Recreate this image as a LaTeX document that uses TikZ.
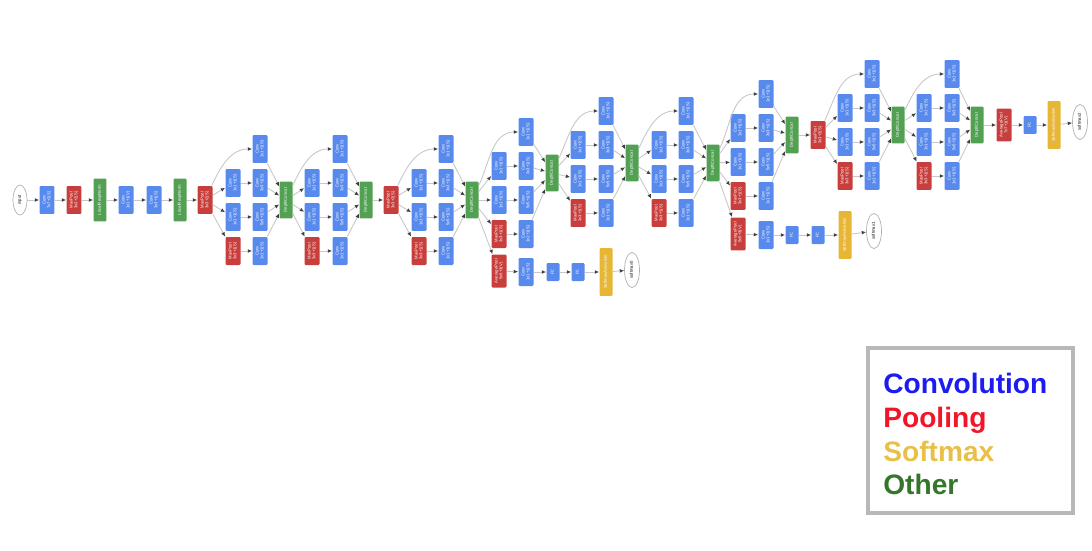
\documentclass[tikz,border=0pt]{standalone}
\usepackage{fontspec}
\setmainfont{Liberation Sans}
\usepackage{graphicx}
\definecolor{GNBlue}{RGB}{88, 138, 238}
\definecolor{GNRed}{RGB}{200, 62, 60}
\definecolor{GNGreen}{RGB}{82, 160, 82}
\definecolor{GNYellow}{RGB}{230, 182, 52}
\definecolor{LegBlue}{RGB}{28, 28, 240}
\definecolor{LegRed}{RGB}{240, 22, 40}
\definecolor{LegYellow}{RGB}{232, 192, 72}
\definecolor{LegGreen}{RGB}{52, 118, 42}
\usetikzlibrary{arrows.meta, shapes.geometric}

% rotated node text
\newcommand{\vtext}[1]{\rotatebox{90}{\begin{tabular}{@{}c@{}}#1\end{tabular}}}
% one inception module: prefix, input node, col1 x, col2 x, concat x, top y, concat y
\newcommand{\inception}[7]{%
  \node[conv] (#1-top) at (#4,-#6) {\vtext{Conv\\1x1+1(S)}};
  \node[conv] (#1-a) at (#3,{-(#6+34)}) {\vtext{Conv\\1x1+1(S)}};
  \node[conv] (#1-b) at (#4,{-(#6+34)}) {\vtext{Conv\\3x3+1(S)}};
  \node[conv] (#1-c) at (#3,{-(#6+68)}) {\vtext{Conv\\1x1+1(S)}};
  \node[conv] (#1-d) at (#4,{-(#6+68)}) {\vtext{Conv\\5x5+1(S)}};
  \node[pool] (#1-e) at (#3,{-(#6+102)}) {\vtext{MaxPool\\3x3+1(S)}};
  \node[conv] (#1-f) at (#4,{-(#6+102)}) {\vtext{Conv\\1x1+1(S)}};
  \node[concat] (#1-cat) at (#5,-#7) {\vtext{DepthConcat}};
  \draw[arrow] (#2) to[out=65, in=180] (#1-top);
  \draw[arrow] (#2) -- (#1-a);
  \draw[arrow] (#2) -- (#1-c);
  \draw[arrow] (#2) -- (#1-e);
  \draw[arrow] (#1-a) -- (#1-b);
  \draw[arrow] (#1-c) -- (#1-d);
  \draw[arrow] (#1-e) -- (#1-f);
  \draw[arrow] (#1-top) -- (#1-cat);
  \draw[arrow] (#1-b) -- (#1-cat);
  \draw[arrow] (#1-d) -- (#1-cat);
  \draw[arrow] (#1-f) -- (#1-cat);
}

\begin{document}
\begin{tikzpicture}[
  x=0.02cm, y=0.02cm,
  blk/.style={
    rectangle, rounded corners=0.6pt, inner sep=0pt,
    text=white, font=\fontsize{2.4}{2.8}\selectfont
  },
  conv/.style={blk, fill=GNBlue, minimum width=0.3cm, minimum height=0.56cm},
  pool/.style={blk, fill=GNRed, minimum width=0.3cm, minimum height=0.56cm},
  avgpool/.style={pool, minimum height=0.66cm},
  lrn/.style={blk, fill=GNGreen, minimum width=0.26cm, minimum height=0.86cm},
  concat/.style={blk, fill=GNGreen, minimum width=0.26cm, minimum height=0.74cm},
  fc/.style={blk, fill=GNBlue, minimum width=0.26cm, minimum height=0.36cm},
  smax/.style={blk, fill=GNYellow, minimum width=0.26cm, minimum height=0.96cm},
  io/.style={
    ellipse, draw=black!30, line width=0.4pt, fill=white, inner sep=0pt,
    minimum width=0.28cm, minimum height=0.6cm, font=\fontsize{2.4}{2.8}\selectfont
  },
  outnode/.style={io, minimum width=0.3cm, minimum height=0.7cm},
  arrow/.style={-{Latex[length=2.5pt, width=2.2pt, color=black!75]}, draw=black!22, line width=0.5pt},
  legend/.style={anchor=base west, inner sep=0pt, font=\fontsize{16}{19}\selectfont\bfseries},
]
\useasboundingbox (0,0) rectangle (1092,-551);

% stem
\node[io] (input) at (20,-200) {\vtext{input}};
\node[conv] (conv1) at (47,-200) {\vtext{Conv\\7x7+2(S)}};
\node[pool] (pool1) at (74,-200) {\vtext{MaxPool\\3x3+2(S)}};
\node[lrn] (norm1) at (100,-200) {\vtext{LocalRespNorm}};
\node[conv] (conv2a) at (126,-200) {\vtext{Conv\\1x1+1(V)}};
\node[conv] (conv2b) at (154,-200) {\vtext{Conv\\3x3+1(S)}};
\node[lrn] (norm2) at (180,-200) {\vtext{LocalRespNorm}};
\node[pool] (pool2) at (205,-200) {\vtext{MaxPool\\3x3+2(S)}};

\draw[arrow] (input) -- (conv1);
\draw[arrow] (conv1) -- (pool1);
\draw[arrow] (pool1) -- (norm1);
\draw[arrow] (norm1) -- (conv2a);
\draw[arrow] (conv2a) -- (conv2b);
\draw[arrow] (conv2b) -- (norm2);
\draw[arrow] (norm2) -- (pool2);

% inception 3
\inception{i3a}{pool2}{233}{260}{286}{149}{200}
\inception{i3b}{i3a-cat}{312}{340}{366}{149}{200}
\node[pool] (pool3) at (391,-200) {\vtext{MaxPool\\3x3+2(S)}};
\draw[arrow] (i3b-cat) -- (pool3);

% inception 4
\inception{i4a}{pool3}{419}{446}{472}{149}{200}
\inception{i4b}{i4a-cat}{499}{526}{552}{132}{173}
\inception{i4c}{i4b-cat}{578}{606}{632}{111}{163}
\inception{i4d}{i4c-cat}{659}{686}{713}{111}{163}
\inception{i4e}{i4d-cat}{738}{766}{792}{94}{135}

% first side classifier
\node[avgpool] (aux1-pool) at (499,-271) {\vtext{AveragePool\\5x5+3(V)}};
\node[conv] (aux1-conv) at (526,-272) {\vtext{Conv\\1x1+1(S)}};
\node[fc] (aux1-fc1) at (553,-272) {\vtext{FC}};
\node[fc] (aux1-fc2) at (578,-272) {\vtext{FC}};
\node[smax] (aux1-sm) at (606,-272) {\vtext{SoftmaxActivation}};
\node[outnode] (softmax0) at (632,-270) {\vtext{softmax0}};
\draw[arrow] (i4a-cat) -- (aux1-pool);
\draw[arrow] (aux1-pool) -- (aux1-conv);
\draw[arrow] (aux1-conv) -- (aux1-fc1);
\draw[arrow] (aux1-fc1) -- (aux1-fc2);
\draw[arrow] (aux1-fc2) -- (aux1-sm);
\draw[arrow] (aux1-sm) -- (softmax0);

% second side classifier
\node[avgpool] (aux2-pool) at (738,-234) {\vtext{AveragePool\\5x5+3(V)}};
\node[conv] (aux2-conv) at (766,-235) {\vtext{Conv\\1x1+1(S)}};
\node[fc] (aux2-fc1) at (792,-235) {\vtext{FC}};
\node[fc] (aux2-fc2) at (818,-235) {\vtext{FC}};
\node[smax] (aux2-sm) at (845,-235) {\vtext{SoftmaxActivation}};
\node[outnode] (softmax1) at (874,-231) {\vtext{softmax1}};
\draw[arrow] (i4d-cat) -- (aux2-pool);
\draw[arrow] (aux2-pool) -- (aux2-conv);
\draw[arrow] (aux2-conv) -- (aux2-fc1);
\draw[arrow] (aux2-fc1) -- (aux2-fc2);
\draw[arrow] (aux2-fc2) -- (aux2-sm);
\draw[arrow] (aux2-sm) -- (softmax1);

\node[pool] (pool4) at (818,-135) {\vtext{MaxPool\\3x3+2(S)}};
\draw[arrow] (i4e-cat) -- (pool4);

% inception 5
\inception{i5a}{pool4}{845}{872}{898}{74}{125}
\inception{i5b}{i5a-cat}{924}{952}{977}{74}{125}

% head
\node[avgpool] (pool5) at (1004,-125) {\vtext{AveragePool\\7x7+1(V)}};
\node[fc] (fc) at (1030,-125) {\vtext{FC}};
\node[smax] (sm) at (1054,-125) {\vtext{SoftmaxActivation}};
\node[outnode] (softmax2) at (1080,-122) {\vtext{softmax2}};
\draw[arrow] (i5b-cat) -- (pool5);
\draw[arrow] (pool5) -- (fc);
\draw[arrow] (fc) -- (sm);
\draw[arrow] (sm) -- (softmax2);

% legend
\draw[draw=black!28, line width=2.2pt] (868,-348) rectangle (1073,-513);
\node[legend, text=LegBlue] (lconv) at (883,-393) {Convolution};
\node[legend, text=LegRed] (lpool) at (883,-427) {Pooling};
\node[legend, text=LegYellow] (lsmax) at (883,-461) {Softmax};
\node[legend, text=LegGreen] (lother) at (883,-494) {Other};
\end{tikzpicture}
\end{document}
